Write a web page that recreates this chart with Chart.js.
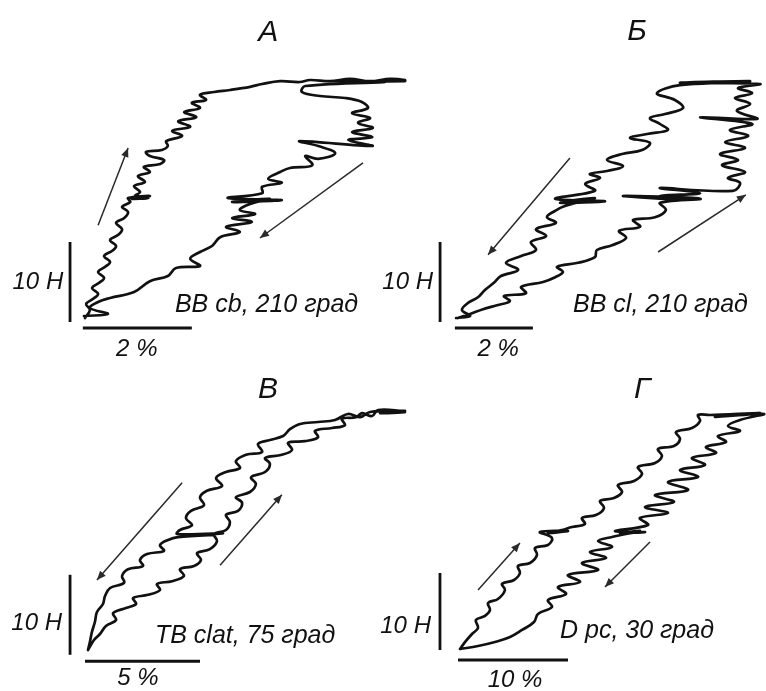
<!DOCTYPE html>
<html>
<head>
<meta charset="utf-8">
<script src="https://cdn.jsdelivr.net/npm/chart.js@4/dist/chart.umd.min.js"></script>
<style>
  html, body { margin: 0; background: #fff; }
  #wrap { position: relative; width: 766px; height: 691px; }
</style>
</head>
<body>
<div id="wrap"><canvas id="loops" width="766" height="691"></canvas></div>
<script>
// Force (N) vs strain (%) loops, loading and unloading, four muscles.

// А — BB cb, 210 град
const strainA_load = [0,0.09,0.02,0.15,0.24,0.13,0.26,0.35,0.24,0.37,0.46,0.35,0.50,0.57,0.46,0.61,0.68,0.57,0.72,0.79,0.68,0.83,0.79,1.19,0.86,1.16,0.92,1.01,0.90,1.10,0.97,1.19,1.08,1.38,1.45,1.19,1.12,1.41,1.52,1.49,1.78,1.60,1.93,1.71,2.04,1.82,2.11,1.96,2.22,2.11,2.37,2.66,3.03,3.25,3.58,3.94,4.13,4.50,4.86,5.23,5.60,5.87];
const forceA_load = [0,1.0,1.75,2.4,3.0,3.75,4.4,5.0,5.75,6.4,7.0,7.75,8.4,9.0,9.75,10.4,11.1,11.9,12.5,13.25,13.9,14.5,15.0,15.25,14.9,15.0,15.25,15.75,16.5,17.0,17.75,18.25,18.9,19.25,19.75,20.25,20.75,21.0,21.5,22.1,22.75,23.4,23.9,24.6,25.1,25.75,26.25,26.9,27.25,27.9,28.25,28.5,28.9,29.25,29.6,29.5,29.75,29.6,29.9,29.6,29.9,29.75];
const strainA_unload = [5.87,4.50,5.50,4.04,3.98,4.31,4.77,5.08,5.19,4.90,5.23,5.01,5.28,4.90,5.27,4.83,5.27,3.94,4.28,4.59,4.28,4.04,4.17,3.76,3.58,3.36,3.61,3.25,3.25,2.62,3.61,2.70,3.39,3.03,2.84,3.12,2.70,3.06,2.59,2.84,2.48,2.33,2.11,1.93,2.11,1.67,1.52,1.19,0.90,0.46,0.24,0.09,0.42,-0.02];
const forceA_unload = [29.6,29.6,29.5,29.0,28.25,27.75,27.5,27.0,26.25,25.6,25.0,24.4,23.75,23.25,22.6,22.25,21.5,22.1,21.5,20.6,19.9,20.25,19.1,18.75,18.25,17.4,16.9,16.4,15.6,15.0,14.75,14.5,14.9,14.25,13.5,13.0,12.5,12.0,11.4,10.75,10.1,9.0,8.25,7.4,6.5,6.25,5.25,4.6,3.25,2.5,2.0,1.25,0.5,0.25];

// Б — BB cl, 210 град
const strainB_load = [0,0.31,0.64,1.00,1.33,1.18,1.74,1.62,2.18,2.49,2.69,2.54,3.08,3.51,3.56,3.95,4.31,4.13,4.67,4.49,5.05,5.33,5.18,6.21,4.23,5.95,5.18,6.21,5.18,7.05,7.23,6.92,7.36,6.77,7.18,6.72,7.36,6.85,7.44,6.97,7.54,6.21,7.67,7.15,7.49,7.10,7.54,7.18,7.74,5.69,7.49,5.95,7.36,5.69];
const forceB_load = [0,0.5,1.1,1.6,2.1,2.75,3.1,3.9,4.5,5.1,5.75,6.4,6.9,7.6,8.5,9.1,10.0,10.9,11.4,12.25,12.6,13.5,14.4,14.9,15.25,14.75,15.25,15.6,16.25,15.9,16.9,17.5,18.25,19.1,19.75,20.5,21.25,22.0,22.75,23.5,24.25,25.1,24.9,25.9,26.75,27.5,28.1,28.75,29.25,29.4,29.6,29.25,29.5,29.1];
const strainB_unload = [5.10,5.56,5.77,5.31,4.92,5.18,5.38,4.85,4.41,4.92,4.72,4.21,3.82,4.23,3.85,3.38,3.64,3.26,3.51,2.49,3.77,2.62,3.51,2.74,2.49,2.28,2.51,2.00,2.26,1.87,2.00,1.62,1.23,1.54,1.10,0.92,0.69,0.51,0.26,0.10,0.31,-0.05];
const forceB_unload = [28.1,27.25,26.25,25.5,25.0,24.25,23.5,23.0,22.5,21.9,21.0,20.5,19.75,19.0,18.4,18.0,17.5,16.75,15.9,14.9,14.6,14.4,15.0,14.0,13.4,12.6,11.9,11.1,10.25,9.5,8.5,7.75,6.9,6.0,5.25,4.4,3.5,2.6,1.9,1.0,0.25,0];

// В — TB clat, 75 град
const strainC_load = [0,0.26,0.52,0.78,1.22,1.09,1.65,2.09,1.96,2.61,3.13,3.00,3.65,4.17,4.00,4.61,4.91,4.74,5.30,5.61,5.48,6.00,6.17,6.00,6.52,6.70,6.43,7.04,7.30,7.09,7.70,7.91,7.70,8.43,8.87,8.70,9.43,10.0,9.87,10.61,11.17,11.04,11.65,11.91,12.35,12.61,13.78,12.70,13.78];
const forceC_load = [0,1.25,2.0,3.0,3.75,4.6,5.25,5.75,6.5,6.9,7.5,8.25,8.6,9.25,10.1,10.5,11.25,12.1,12.6,13.6,14.5,15.0,16.0,16.9,17.4,18.4,19.1,19.75,20.75,21.6,22.25,23.25,24.0,24.4,25.0,25.9,26.1,26.6,27.4,27.75,28.1,28.9,29.1,29.6,29.25,30.0,29.75,29.6,29.9];
const strainC_unload = [12.26,11.83,11.30,10.74,10.0,9.22,8.78,8.48,7.91,7.39,7.57,6.87,6.43,6.61,6.00,5.57,5.83,5.17,4.87,5.04,4.48,4.26,4.52,4.00,3.87,5.87,4.22,5.52,3.91,3.48,3.13,3.30,2.57,2.26,2.39,1.74,1.48,1.57,0.96,0.74,0.65,0.39,0.30,0.17,0.09,0];
const forceC_unload = [29.75,29.1,29.5,28.75,28.5,28.25,27.6,26.75,26.25,25.75,24.75,24.4,23.6,22.75,22.25,21.5,20.5,19.9,19.1,18.1,17.4,16.5,15.6,15.0,14.5,14.6,14.25,14.4,14.1,13.75,13.1,12.4,12.0,11.25,10.5,10.1,9.25,8.4,7.75,6.75,5.75,4.75,3.5,2.25,1.1,0];

// Г — D pc, 30 град
const strainD_load = [0,0.45,1.09,1.64,1.45,2.27,2.73,2.55,3.45,4.09,3.82,4.91,5.45,5.27,6.36,7.0,6.82,8.0,8.36,7.27,9.82,8.0,9.27,10.18,11.36,11.09,12.36,13.09,12.73,14.0,14.73,14.36,15.82,16.55,16.18,17.73,18.36,18.0,19.45,20.0,19.64,21.09,21.82,21.64,22.73,27.27,23.18,27.64];
const forceD_load = [0,0.9,1.95,2.73,3.77,4.29,5.06,5.97,6.49,7.66,8.44,8.96,9.87,10.78,11.17,12.21,13.12,13.51,14.42,15.19,15.32,15.06,15.45,15.84,16.23,17.01,17.40,18.31,19.22,19.61,20.39,21.30,21.82,22.73,23.64,24.16,25.06,25.97,26.36,27.27,28.18,28.70,29.61,30.39,30.39,30.65,30.13,30.52];
const strainD_unload = [25.45,24.36,25.45,23.45,24.18,22.36,23.27,21.09,22.27,20.0,21.64,18.91,20.73,17.73,19.45,16.82,18.91,16.36,17.09,14.09,16.82,14.55,16.36,13.82,12.55,13.82,11.82,13.27,11.09,12.55,9.82,10.91,8.91,9.64,8.0,8.36,7.09,6.73,5.64,4.55,3.18,1.64,0];
const forceD_unload = [29.74,28.96,28.31,27.66,26.88,26.23,25.45,24.81,23.90,23.25,22.34,21.69,20.65,20.0,19.09,18.44,17.66,17.01,16.10,15.32,15.19,15.06,15.32,14.55,14.03,13.25,12.60,11.82,11.17,10.26,9.61,8.70,8.05,7.14,6.36,5.45,4.55,3.51,2.47,1.56,0.91,0.39,0];

// direction arrows, [strain0, force0, strain1, force1]
const arrowsA = [[0.24, 11.6, 0.79, 21.25], [5.10, 19.4, 3.21, 10.0]];
const arrowsB = [[2.87, 20.0, 0.77, 7.9], [5.13, 8.25, 7.38, 15.4]];
const arrowsC = [[4.09, 20.9, 0.39, 8.75], [5.74, 10.6, 8.43, 19.4]];
const arrowsD = [[1.64, 7.66, 5.45, 13.77], [17.27, 13.9, 13.18, 8.05]];

// calibration bars: force (N) and strain (%)
const barForce = [10, 10, 10, 10];
const barStrain = [2, 2, 5, 10];

const titles = ['А', 'Б', 'В', 'Г'];
const captions = ['BB cb, 210 град', 'BB cl, 210 град', 'TB clat, 75 град', 'D pc, 30 град'];

const zip = (xs, ys) => xs.map((x, i) => ({ x, y: ys[i] }));

const panels = [
  { id: 'A', load: [strainA_load, forceA_load], unload: [strainA_unload, forceA_unload], arrows: arrowsA,
    xRange: [-1.560, 12.495], yRange: [-46.625, 39.75],
    vBar: { x: -0.275, y0: -0.5 }, hBar: { y: -1.25, x0: -0.04 },
    forceLbl: [-0.40, 3.6], strainLbl: [0.95, -4.8], capLbl: [1.65, 0.75], titleLbl: [3.36, 34.6] },
  { id: 'B', load: [strainB_load, forceB_load], unload: [strainB_unload, forceB_unload], arrows: arrowsB,
    xRange: [-11.744, 7.897], yRange: [-46.625, 39.75],
    vBar: { x: -0.46, y0: -0.5 }, hBar: { y: -1.25, x0: -0.08 },
    forceLbl: [-0.64, 3.6], strainLbl: [1.03, -4.8], capLbl: [2.95, 0.75], titleLbl: [4.59, 34.75] },
  { id: 'C', load: [strainC_load, forceC_load], unload: [strainC_unload, forceC_unload], arrows: arrowsC,
    xRange: [-3.826, 29.478], yRange: [-5.125, 81.25],
    vBar: { x: -0.78, y0: -0.6 }, hBar: { y: -1.4, x0: -0.13 },
    forceLbl: [-1.13, 2.5], strainLbl: [2.17, -4.4], capLbl: [2.91, 0.9], titleLbl: [7.83, 31.5] },
  { id: 'D', load: [strainD_load, forceD_load], unload: [strainD_unload, forceD_unload], arrows: arrowsD,
    xRange: [-41.818, 27.818], yRange: [-5.455, 84.286],
    vBar: { x: -1.82, y0: -0.13 }, hBar: { y: -1.43, x0: -0.18 },
    forceLbl: [-2.64, 2.08], strainLbl: [5.0, -4.94], capLbl: [9.09, 1.43], titleLbl: [16.55, 32.6] }
];

const datasets = [];
const scales = { x: { display: false }, y: { display: false } };

panels.forEach((p, i) => {
  const xID = 'x' + p.id, yID = 'y' + p.id;
  scales[xID] = { type: 'linear', axis: 'x', display: false, min: p.xRange[0], max: p.xRange[1] };
  scales[yID] = { type: 'linear', axis: 'y', display: false, min: p.yRange[0], max: p.yRange[1] };

  // one continuous loop: loading then unloading
  datasets.push({
    data: zip(p.load[0].concat(p.unload[0]), p.load[1].concat(p.unload[1])),
    xAxisID: xID, yAxisID: yID, showLine: true,
    borderColor: '#111', borderWidth: 2.7, tension: 0.38,
    borderJoinStyle: 'round', borderCapStyle: 'round', pointRadius: 0
  });

  p.arrows.forEach(a => {
    datasets.push({
      data: [{ x: a[0], y: a[1] }, { x: a[2], y: a[3] }],
      xAxisID: xID, yAxisID: yID, showLine: true, arrow: true,
      borderColor: '#2a2a2a', borderWidth: 1.5, tension: 0, pointRadius: 0
    });
  });

  datasets.push({
    data: [{ x: p.vBar.x, y: p.vBar.y0 }, { x: p.vBar.x, y: p.vBar.y0 + barForce[i] }],
    xAxisID: xID, yAxisID: yID, showLine: true,
    borderColor: '#111', borderWidth: 2.8, tension: 0, pointRadius: 0
  });
  datasets.push({
    data: [{ x: p.hBar.x0, y: p.hBar.y }, { x: p.hBar.x0 + barStrain[i], y: p.hBar.y }],
    xAxisID: xID, yAxisID: yID, showLine: true,
    borderColor: '#111', borderWidth: 3, tension: 0, pointRadius: 0
  });
});

const arrowHeads = {
  id: 'arrowHeads',
  afterDatasetsDraw(chart) {
    const ctx = chart.ctx;
    chart.data.datasets.forEach((ds, i) => {
      if (!ds.arrow) return;
      const pts = chart.getDatasetMeta(i).data;
      const a = pts[0], b = pts[1];
      const ang = Math.atan2(b.y - a.y, b.x - a.x);
      const len = 9, half = 3.8;
      ctx.save();
      ctx.translate(b.x, b.y);
      ctx.rotate(ang);
      ctx.fillStyle = ds.borderColor;
      ctx.beginPath();
      ctx.moveTo(0, 0);
      ctx.lineTo(-len, -half);
      ctx.lineTo(-len, half);
      ctx.closePath();
      ctx.fill();
      ctx.restore();
    });
  }
};

const panelText = {
  id: 'panelText',
  afterDatasetsDraw(chart) {
    const ctx = chart.ctx;
    const put = (p, pos, text, align, size) => {
      const px = chart.scales['x' + p.id].getPixelForValue(pos[0]);
      const py = chart.scales['y' + p.id].getPixelForValue(pos[1]);
      ctx.font = 'italic ' + size + 'px "Liberation Sans", Arial, sans-serif';
      ctx.textAlign = align;
      ctx.textBaseline = 'alphabetic';
      ctx.fillText(text, px, py);
    };
    ctx.save();
    ctx.fillStyle = '#111';
    panels.forEach((p, i) => {
      put(p, p.titleLbl, titles[i], 'center', 30);
      put(p, p.forceLbl, barForce[i] + ' Н', 'right', 24);
      put(p, p.strainLbl, barStrain[i] + ' %', 'center', 24);
      put(p, p.capLbl, captions[i], 'left', 25);
    });
    ctx.restore();
  }
};

new Chart(document.getElementById('loops').getContext('2d'), {
  type: 'scatter',
  data: { datasets },
  options: {
    responsive: false,
    animation: false,
    events: [],
    layout: { padding: 0, autoPadding: false },
    scales,
    plugins: { legend: { display: false }, tooltip: { enabled: false } }
  },
  plugins: [arrowHeads, panelText]
});
</script>
</body>
</html>
